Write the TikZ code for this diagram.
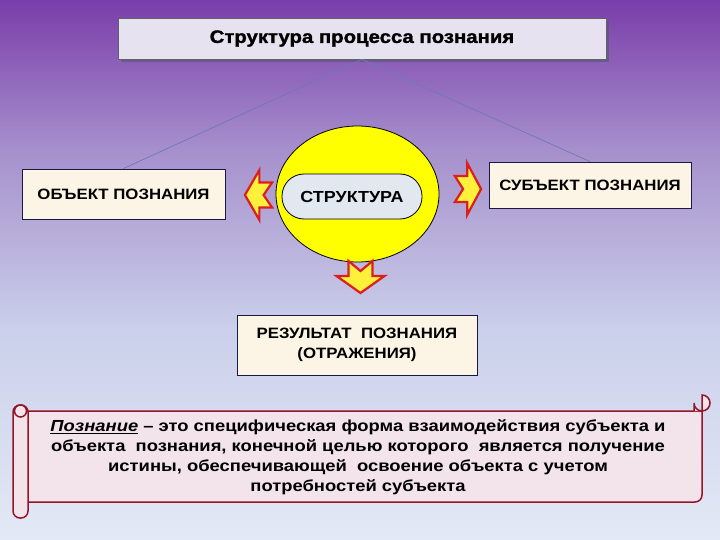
\documentclass[tikz,border=0pt]{standalone}
\usepackage{fontspec}
\setmainfont{Liberation Sans}
\newfontfamily\boxf{Liberation Sans}[FakeStretch=1.12]
\newfontfamily\textf{Liberation Sans}[FakeStretch=1.15]
\newfontfamily\titlef{Liberation Sans}[FakeStretch=1.13,FakeBold=1.6]
\usetikzlibrary{shapes.geometric}
\definecolor{bgA}{RGB}{122,61,170}
\definecolor{bgB}{RGB}{166,144,204}
\definecolor{bgC}{RGB}{203,208,235}
\definecolor{bgD}{RGB}{227,233,245}
\definecolor{navy}{RGB}{25,25,70}
\definecolor{cream}{RGB}{252,244,228}
\definecolor{titlefill}{RGB}{230,226,240}
\definecolor{pill}{RGB}{226,232,240}
\definecolor{sun}{RGB}{255,255,0}
\definecolor{burstred}{RGB}{220,30,30}
\definecolor{burstfill}{RGB}{255,240,60}
\definecolor{scrollred}{RGB}{150,20,40}
\definecolor{scrollfill}{RGB}{243,228,236}
\definecolor{linkc}{RGB}{110,120,185}
\begin{document}
\begin{tikzpicture}[x=1pt,y=-1pt,
  box/.style={draw=navy, line width=0.9pt, fill=cream, inner sep=0pt,
    font=\boxf\bfseries\fontsize{15}{20}\selectfont, align=center},
  burst/.style={fill=burstfill, draw=burstred, line width=2.2pt, line join=miter},
  link/.style={draw=linkc, line width=0.7pt},
  scroll/.style={draw=scrollred, line width=1.5pt, fill=scrollfill}]
% background
\shade[top color=bgA, bottom color=bgB] (0,0) rectangle (720,150);
\shade[top color=bgB, bottom color=bgC] (0,150) rectangle (720,330);
\shade[top color=bgC, bottom color=bgD] (0,330) rectangle (720,540);
\useasboundingbox (0,0) rectangle (720,540);
% title
\fill[gray!60!navy, opacity=0.6] (121,21) rectangle (609,62);
\node[draw=gray!70!navy, line width=0.6pt, fill=titlefill, minimum width=488pt,
  minimum height=41pt, inner sep=0pt, font=\titlef\bfseries\fontsize{18}{20}\selectfont]
  (title) at (362,38.5) {Структура процесса познания};
% side boxes
\node[box, minimum width=203pt, minimum height=50pt] (obj) at (123.5,194) {ОБЪЕКТ ПОЗНАНИЯ};
\node[box, minimum width=202pt, minimum height=46pt] (subj) at (590,185) {СУБЪЕКТ ПОЗНАНИЯ};
\draw[link] (title.south) -- (obj.north);
\draw[link] (title.south) -- (subj.north);
% central ellipse
\node[ellipse, draw=black, line width=0.8pt, fill=sun, minimum width=163pt,
  minimum height=136pt, inner sep=0pt] (circ) at (357.5,194) {};
\node[draw=black, line width=0.8pt, fill=pill, rounded corners=22pt,
  minimum width=140pt, minimum height=45pt, inner sep=0pt,
  font=\boxf\bfseries\fontsize{16}{18}\selectfont] (struct) at (352,196.5) {СТРУКТУРА};
% arrows
\draw[burst, shift={(258.5,195)}, xscale=0.85, yscale=1.04]
  (16,-12) -- (6,0) -- (16,12) -- (1,12) -- (1,24) -- (-16,0) -- (1,-24) -- (1,-12) -- cycle;
\draw[burst, shift={(468,189)}, xscale=0.82, yscale=1.08]
  (-16,12) -- (-6,0) -- (-16,-12) -- (-1,-12) -- (-1,-24) -- (16,0) -- (-1,24) -- (-1,12) -- cycle;
\draw[burst, shift={(360.5,277)}]
  (-12,-16) -- (0,-6) -- (12,-16) -- (12,-1) -- (24,-1) -- (0,16) -- (-24,-1) -- (-12,-1) -- cycle;
% result box
\node[box, minimum width=240pt, minimum height=60pt] (res) at (357,345)
  {РЕЗУЛЬТАТ\ \ ПОЗНАНИЯ\\(ОТРАЖЕНИЯ)};
% scroll
\draw[scroll] (20,411) -- (702,411) -- (702,495) arc[start angle=0, end angle=90, radius=7] -- (20,502) -- cycle;
\draw[scroll] (694,411) -- (694,403) arc[start angle=180, end angle=-90, radius=8] -- (702,411);
\draw[scroll, rounded corners=7pt] (13,405) rectangle (28,518);
\draw[scroll] (20.5,411) circle[radius=6];
\node[align=center, font=\textf\bfseries\fontsize{16}{20}\selectfont] (def) at (358,457)
  {\underline{\textit{Познание}} – это специфическая форма взаимодействия субъекта и\\
   объекта\ \ познания, конечной целью которого\ \ является получение\\
   истины, обеспечивающей\ \ освоение объекта с учетом\\
   потребностей субъекта};
\end{tikzpicture}
\end{document}
